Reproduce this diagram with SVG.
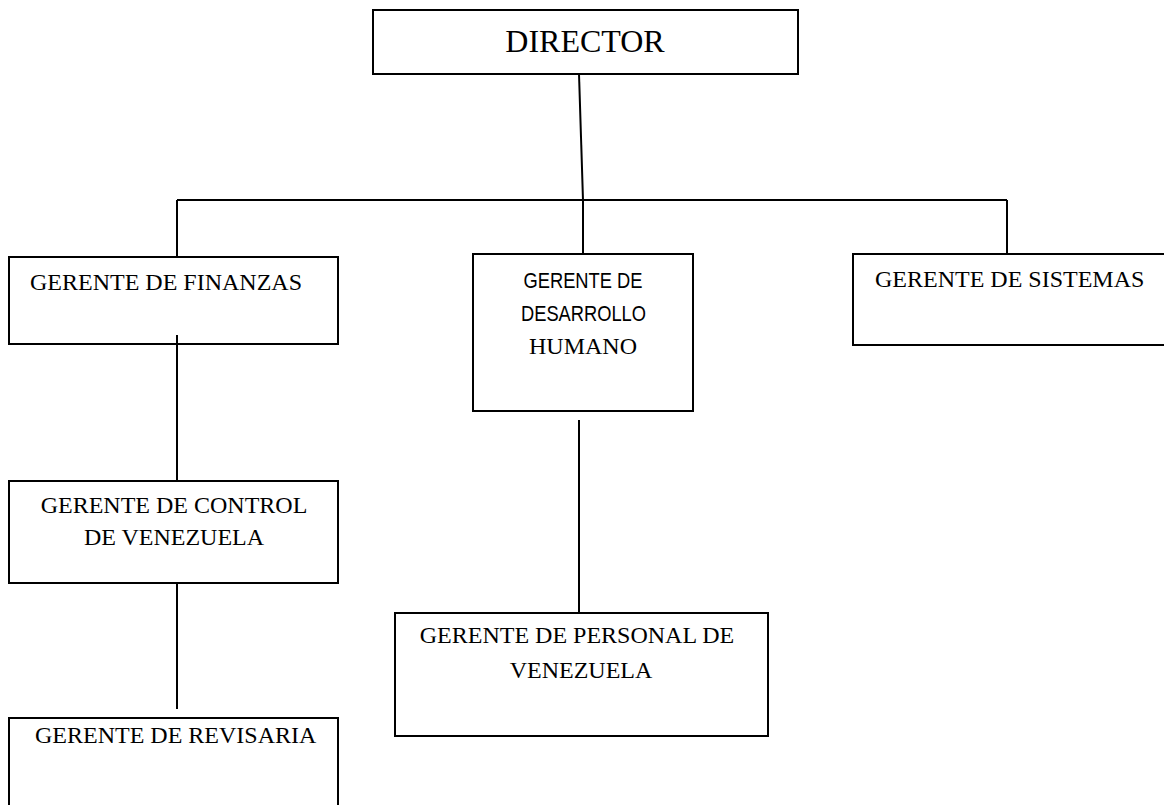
<svg xmlns="http://www.w3.org/2000/svg" width="1164" height="805" viewBox="0 0 1164 805">
<style>
.box{fill:#fff;stroke:#000;stroke-width:2}
.ln{stroke:#000;stroke-width:2;fill:none}
.t{font-family:"Liberation Serif","Times New Roman",serif;font-size:24px;fill:#000}
.s{font-family:"Liberation Sans",Arial,sans-serif;font-size:21.5px;fill:#000}
.c{text-anchor:middle}
</style>
<rect width="1164" height="805" fill="#fff"/>
<g id="connectors">
<line class="ln" x1="579" y1="74" x2="583" y2="200"/>
<line class="ln" x1="177" y1="200" x2="1007" y2="200"/>
<line class="ln" x1="177" y1="200" x2="177" y2="257"/>
<line class="ln" x1="583" y1="200" x2="583" y2="254"/>
<line class="ln" x1="1007" y1="200" x2="1007" y2="254"/>
<line class="ln" x1="177" y1="335" x2="177" y2="481"/>
<line class="ln" x1="177" y1="583" x2="177" y2="709"/>
<line class="ln" x1="579" y1="420" x2="579" y2="613"/>
</g>
<g id="director">
<rect class="box" x="373" y="10" width="425" height="64"/>
<text class="t c" x="585" y="52" style="font-size:32px">DIRECTOR</text>
</g>
<g id="finanzas">
<rect class="box" x="9" y="257" width="329" height="87" style="fill:none"/>
<text class="t" x="30" y="290">GERENTE DE FINANZAS</text>
</g>
<g id="desarrollo">
<rect class="box" x="473" y="254" width="220" height="157"/>
<text class="s" x="523.5" y="288" textLength="119" lengthAdjust="spacingAndGlyphs">GERENTE DE</text>
<text class="s" x="521" y="320.5" textLength="125" lengthAdjust="spacingAndGlyphs">DESARROLLO</text>
<text class="t c" x="583" y="354">HUMANO</text>
</g>
<g id="sistemas">
<rect class="box" x="853" y="254" width="320" height="91"/>
<text class="t" x="875" y="287">GERENTE DE SISTEMAS</text>
</g>
<g id="control">
<rect class="box" x="9" y="481" width="329" height="102"/>
<text class="t c" x="174" y="513">GERENTE DE CONTROL</text>
<text class="t c" x="174" y="545">DE VENEZUELA</text>
</g>
<g id="revisaria">
<rect class="box" x="9" y="718" width="329" height="100"/>
<text class="t" x="35" y="743">GERENTE DE REVISARIA</text>
</g>
<g id="personal">
<rect class="box" x="395" y="613" width="373" height="123"/>
<text class="t c" x="577" y="643">GERENTE DE PERSONAL DE</text>
<text class="t c" x="581" y="678">VENEZUELA</text>
</g>
</svg>
